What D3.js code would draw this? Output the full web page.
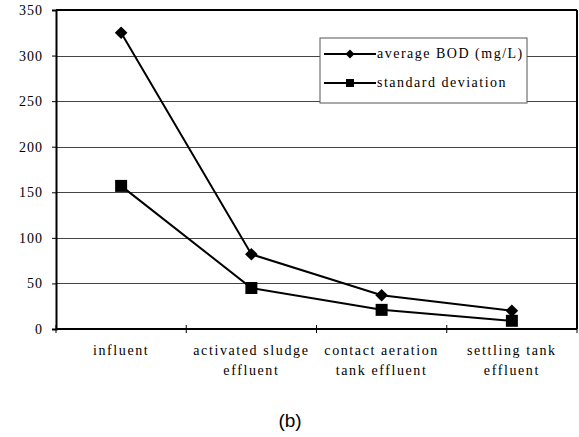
<!DOCTYPE html>
<html lang="en">
<head>
<meta charset="utf-8">
<style>
  body { margin: 0; background: #fff; }
  text { font-family: "Liberation Serif", "DejaVu Serif", serif; fill: #000; }
  .grid line { stroke: #444; stroke-width: 1px; }
  .series { fill: none; stroke: #000; stroke-width: 2px; }
</style>
<script src="https://cdn.jsdelivr.net/npm/d3@7"></script>
</head>
<body>
<div id="chart"></div>
<script>
// data
var categories = [["influent"], ["activated sludge", "effluent"], ["contact aeration", "tank effluent"], ["settling tank", "effluent"]];
var avgBOD = [325, 82, 37, 20];
var stdDev = [157, 45, 21, 9];
var yTicks = [0, 50, 100, 150, 200, 250, 300, 350];
var seriesNames = ["average BOD (mg/L)", "standard deviation"];

var W = 579, H = 437;
var margin = {top: 10, right: 2, bottom: 108, left: 56};
var width = W - margin.left - margin.right,
    height = H - margin.top - margin.bottom;
var SERIF = "'Liberation Serif', 'DejaVu Serif', serif";

var svg = d3.select("#chart").append("svg")
    .attr("width", W).attr("height", H);

var g = svg.append("g")
    .attr("transform", "translate(" + margin.left + "," + margin.top + ")");

var x = d3.scaleBand().domain(d3.range(categories.length)).range([0, width]);
var y = d3.scaleLinear().domain([0, 350]).range([height, 0]);

// gridlines
g.append("g").attr("class", "grid")
  .selectAll("line").data(yTicks.slice(1, -1)).enter().append("line")
    .attr("x1", 0).attr("x2", width)
    .attr("y1", function(d) { return Math.round(y(d)) + 0.5; })
    .attr("y2", function(d) { return Math.round(y(d)) + 0.5; });

// plot frame top / right
g.append("line").attr("x1", 0).attr("x2", width).attr("y1", 0).attr("y2", 0)
  .attr("stroke", "#000").attr("stroke-width", 2);
g.append("line").attr("x1", width).attr("x2", width).attr("y1", 0).attr("y2", height)
  .attr("stroke", "#000").attr("stroke-width", 2);

// y axis
var yAxis = g.append("g").call(d3.axisLeft(y).tickValues(yTicks).tickSize(4).tickPadding(9));
yAxis.attr("font-family", null).attr("font-size", null);
yAxis.select(".domain").attr("stroke-width", 2);
yAxis.selectAll("text").style("font-family", SERIF).style("font-size", "14px")
  .style("letter-spacing", "1px");

// x axis with ticks between categories
var xAxis = g.append("g").attr("transform", "translate(0," + height + ")");
xAxis.append("line").attr("x1", 0).attr("x2", width).attr("stroke", "#000").attr("stroke-width", 2);
xAxis.selectAll(".tk").data(d3.range(categories.length + 1)).enter().append("line")
    .attr("x1", function(i) { return i * x.step(); })
    .attr("x2", function(i) { return i * x.step(); })
    .attr("y1", -4).attr("y2", 4)
    .attr("stroke", "#000");
xAxis.selectAll(".cat").data(categories).enter().append("text")
    .attr("text-anchor", "middle")
    .style("font-family", SERIF).style("font-size", "14px").style("letter-spacing", "1.6px")
    .attr("transform", function(d, i) { return "translate(" + (x(i) + x.bandwidth() / 2) + ",0)"; })
    .each(function(d) {
      var t = d3.select(this);
      d.forEach(function(line, k) {
        t.append("tspan").attr("x", 0).attr("y", 26 + k * 20).text(line);
      });
    });

// series
var line = d3.line()
  .x(function(d, i) { return x(i) + x.bandwidth() / 2; })
  .y(function(d) { return y(d); });

g.append("path").datum(avgBOD).attr("class", "series").attr("d", line);
g.append("path").datum(stdDev).attr("class", "series").attr("d", line);

g.selectAll(".dia").data(avgBOD).enter().append("path")
  .attr("d", d3.symbol().type(d3.symbolSquare).size(80))
  .attr("transform", function(d, i) { return "translate(" + (x(i) + x.bandwidth() / 2) + "," + y(d) + ") rotate(45)"; })
  .attr("fill", "#000");
g.selectAll(".sq").data(stdDev).enter().append("path")
  .attr("d", d3.symbol().type(d3.symbolSquare).size(144))
  .attr("transform", function(d, i) { return "translate(" + (x(i) + x.bandwidth() / 2) + "," + y(d) + ")"; })
  .attr("fill", "#000");

// legend
var lg = svg.append("g").attr("transform", "translate(320,38)");
lg.append("rect").attr("width", 207).attr("height", 65)
  .attr("fill", "#fff").attr("stroke", "#555").attr("stroke-width", 1);
seriesNames.forEach(function(name, k) {
  var ly = 16 + k * 29;
  lg.append("line").attr("x1", 4).attr("x2", 56).attr("y1", ly).attr("y2", ly)
    .attr("stroke", "#000").attr("stroke-width", 2);
  if (k === 0) {
    lg.append("path").attr("d", d3.symbol().type(d3.symbolSquare).size(40)())
      .attr("transform", "translate(30," + ly + ") rotate(45)").attr("fill", "#000");
  } else {
    lg.append("path").attr("d", d3.symbol().type(d3.symbolSquare).size(64)())
      .attr("transform", "translate(30," + ly + ")").attr("fill", "#000");
  }
  lg.append("text").attr("x", 57).attr("y", ly + 4)
    .style("font-family", SERIF).style("font-size", "14px").style("letter-spacing", "1.5px").text(name);
});

// caption
svg.append("text").attr("x", 290).attr("y", 427).attr("text-anchor", "middle")
  .style("font-family", "'Liberation Sans', Arial, sans-serif").style("font-size", "19px")
  .text("(b)");
</script>
</body>
</html>
